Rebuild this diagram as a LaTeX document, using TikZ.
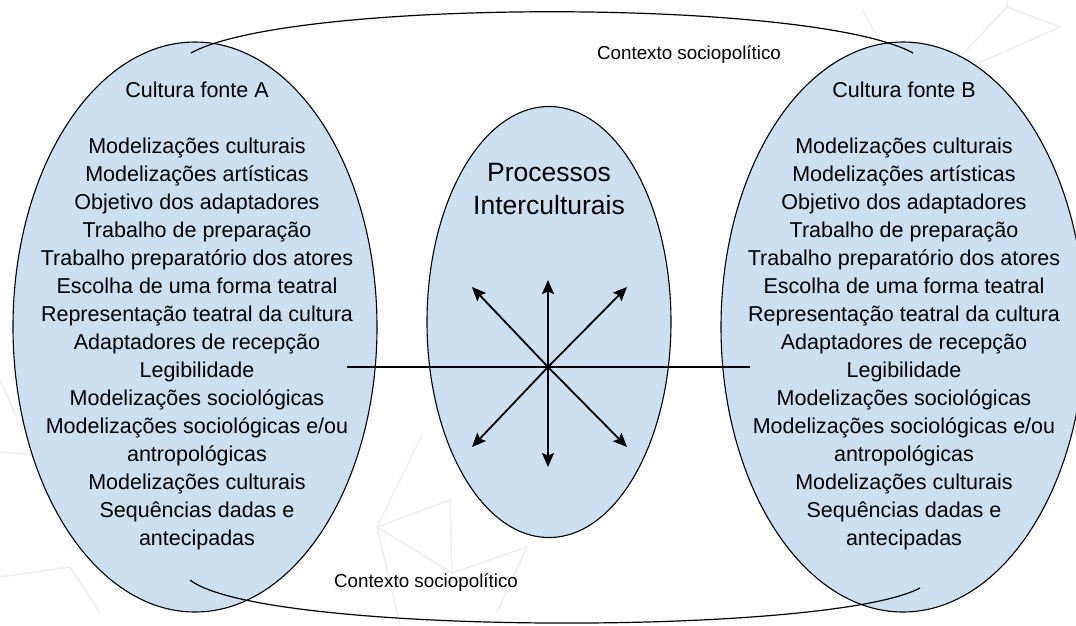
\documentclass[tikz,border=0pt]{standalone}
\usepackage{fontspec}
\setmainfont{Liberation Sans}
\usetikzlibrary{arrows.meta,shapes.geometric}
\definecolor{ellfill}{RGB}{205,224,242}
\definecolor{wm}{RGB}{238,238,238}
\begin{document}
\begin{tikzpicture}[x=1pt,y=-1pt,
  ell/.style={draw=black, line width=1.1pt, fill=ellfill, ellipse, inner sep=0pt},
  body/.style={align=center, font=\fontsize{21.5}{28}\selectfont, inner sep=0pt},
  titletext/.style={align=center, font=\fontsize{26.5}{33}\selectfont, inner sep=0pt},
  ctx/.style={font=\fontsize{18.8}{22}\selectfont, inner sep=0pt},
  arr/.style={line width=1.8pt, -{Stealth[length=14pt,width=12pt,inset=2.5pt]}},
  wire/.style={line width=1.8pt},
  ctxline/.style={line width=1.2pt},
  bgline/.style={draw=wm, line width=1.5pt}]
\useasboundingbox (0,0) rectangle (1076,625);
% faint background pattern
\draw[bgline] (0,380) -- (18,420);
\draw[bgline] (0,452) -- (37,455);
\draw[bgline] (0,577) -- (70,567) -- (100,613);
\draw[bgline] (422,435) -- (377,527) -- (450,500) -- (452,573) -- (377,527) -- (400,625);
\draw[bgline] (452,573) -- (527,547) -- (497,612);
\draw[bgline] (1007,0) -- (1007,7) -- (1060,27) -- (970,67);
\draw[bgline] (1007,7) -- (960,57);
\draw[bgline] (863,10) -- (880,43);
% ellipses
\node[ell, minimum width=364pt, minimum height=570pt] (A) at (195,327) {};
\node[ell, minimum width=364pt, minimum height=570pt] (B) at (903,327) {};
\node[ell, minimum width=244pt, minimum height=431pt] (P) at (549,322) {};
% context curves
\coordinate (c1) at (191,53);
\coordinate (c2) at (913,53);
\coordinate (c3) at (190,580);
\coordinate (c4) at (920,588);
\draw[ctxline] (c1) .. controls (290,-2) and (813,-2) .. (c2);
\draw[ctxline] (c3) .. controls (262,636) and (830,636) .. (c4);
\node[ctx] (ctxtop) at (689,55) {Contexto sociopolítico};
\node[ctx] (ctxbot) at (426,583) {Contexto sociopolítico};
% texts
\node[body] (ta) at (197,316) {Cultura fonte A\\[28pt]
Modelizações culturais\\
Modelizações artísticas\\
Objetivo dos adaptadores\\
Trabalho de preparação\\
Trabalho preparatório dos atores\\
Escolha de uma forma teatral\\
Representação teatral da cultura\\
Adaptadores de recepção\\
Legibilidade\\
Modelizações sociológicas\\
Modelizações sociológicas e/ou\\
antropológicas\\
Modelizações culturais\\
Sequências dadas e\\
antecipadas};
\node[body] (tb) at (904,316) {Cultura fonte B\\[28pt]
Modelizações culturais\\
Modelizações artísticas\\
Objetivo dos adaptadores\\
Trabalho de preparação\\
Trabalho preparatório dos atores\\
Escolha de uma forma teatral\\
Representação teatral da cultura\\
Adaptadores de recepção\\
Legibilidade\\
Modelizações sociológicas\\
Modelizações sociológicas e/ou\\
antropológicas\\
Modelizações culturais\\
Sequências dadas e\\
antecipadas};
\node[titletext] (tp) at (549,189) {Processos\\Interculturais};
% horizontal line
\coordinate (hl) at (347,367);
\coordinate (hr) at (750,367);
\draw[wire] (hl) -- (hr);
% arrows
\coordinate (o) at (548,367);
\coordinate (tU) at (548,280);
\coordinate (tD) at (548,467);
\coordinate (tUL) at (472,287);
\coordinate (tUR) at (627,287);
\coordinate (tDL) at (472,447);
\coordinate (tDR) at (627,447);
\foreach \t in {tU,tD,tUL,tUR,tDL,tDR} \draw[arr] (o) -- (\t);
\end{tikzpicture}
\end{document}
